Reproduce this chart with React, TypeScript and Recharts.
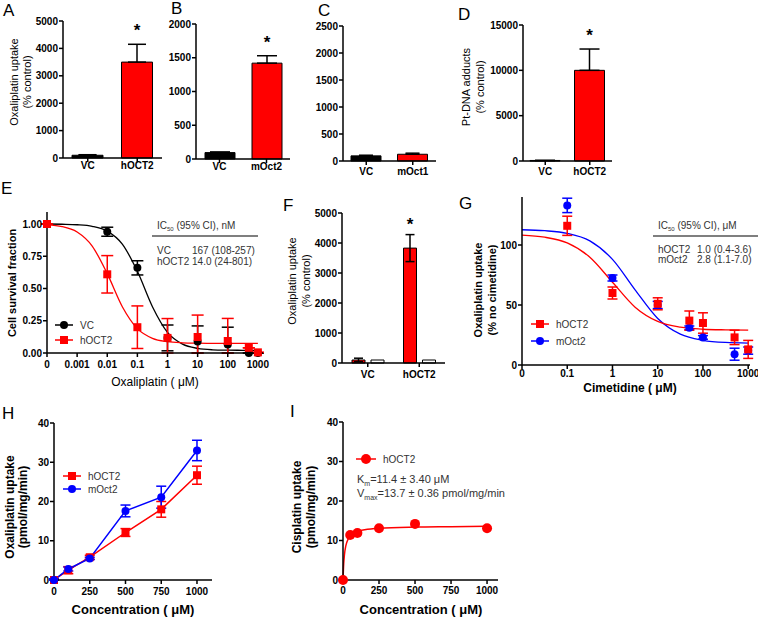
import React from 'react';
import { BarChart, Bar, Cell, XAxis, YAxis, ErrorBar, LabelList, ComposedChart, Line } from 'recharts';

const RED = '#ff0000';
const BLUE = '#0000ff';
const FONT = '"Liberation Sans", Arial, sans-serif';

// A - oxaliplatin uptake, hOCT2
const catsA = ['VC', 'hOCT2'];
const uptakeA = [100, 3500];
const errA = [20, 650];
const ticksA = [0, 1000, 2000, 3000, 4000, 5000];
// B - mOct2
const catsB = ['VC', 'mOct2'];
const uptakeB = [95, 1420];
const errB = [10, 110];
const ticksB = [0, 500, 1000, 1500, 2000];
// C - mOct1
const catsC = ['VC', 'mOct1'];
const uptakeC = [95, 125];
const errC = [12, 20];
const ticksC = [0, 500, 1000, 1500, 2000, 2500];
// D - Pt-DNA adducts
const catsD = ['VC', 'hOCT2'];
const adductsD = [60, 10000];
const errD = [0, 2350];
const ticksD = [0, 5000, 10000, 15000];
// F - uptake with / without inhibitor
const catsF = ['VC', 'hOCT2'];
const uptakeF = [100, 3830];
const errF = [60, 450];
const uptakeFctrl = [100, 100];
const ticksF = [0, 1000, 2000, 3000, 4000, 5000];

// E - cell survival
const doseE = [0, 0.01, 0.1, 1, 10, 100, 500, 1000];
const survVC = [1.0, 0.94, 0.66, 0.117, 0.09, 0.065, 0.0, 0.0];
const survVCErr = [0, 0.035, 0.055, 0.1, 0.12, 0.135, 0, 0];
const survHOCT2 = [1.0, 0.61, 0.2, 0.117, 0.124, 0.093, 0.04, 0.005];
const survHOCT2Err = [0, 0.145, 0.165, 0.15, 0.17, 0.175, 0, 0];
const fitLogE = [-4, -3.5, -3, -2.5, -2, -1.5, -1, -0.5, 0, 0.5, 1, 1.5, 2, 2.5, 3];
const fitVC = [1.0, 0.998, 0.994, 0.982, 0.945, 0.844, 0.633, 0.359, 0.16, 0.069, 0.036, 0.025, 0.022, 0.021, 0.02];
const fitHOCT2 = [0.993, 0.98, 0.938, 0.829, 0.615, 0.359, 0.189, 0.114, 0.088, 0.079, 0.076, 0.075, 0.075, 0.075, 0.075];
const xTicksE = ['0', '0.001', '0.01', '0.1', '1', '10', '100', '1000'];
const yTicksE = [0, 0.25, 0.5, 0.75, 1.0];

// G - cimetidine inhibition
const doseG = [0.1, 1, 10, 50, 100, 500, 1000];
const cimHOCT2 = [116, 60, 51, 37, 35, 23, 13];
const cimHOCT2Err = [8, 5, 5, 8, 8.5, 6, 7.5];
const cimMOct2 = [133, 72.5, 50, 31, 23, 9, 12];
const cimMOct2Err = [6, 2.5, 3, 1.5, 1.5, 5, 3];
const fitLogG = [-2, -1.5, -1, -0.5, 0, 0.5, 1, 1.5, 2, 2.5, 3];
const fitGH = [108.2, 106.5, 101.7, 89.8, 69, 48.2, 36.3, 31.5, 29.8, 29.3, 29.1];
const fitGM = [112.7, 111.9, 109.7, 103.4, 88, 62.6, 38.8, 25.7, 20.6, 18.8, 18.3];
const xTicksG = ['0', '0.1', '1', '10', '100', '1000'];
const yTicksG = [0, 50, 100];

// H - oxaliplatin uptake vs concentration
const concH = [0, 100, 250, 500, 750, 1000];
const oxHOCT2 = [0, 2.5, 5.8, 12.1, 18, 26.7];
const oxHOCT2Err = [0.3, 0.9, 0.5, 1, 2, 2.3];
const oxMOct2 = [0, 2.8, 5.5, 17.6, 21.1, 33];
const oxMOct2Err = [0.3, 0.5, 0.3, 1.5, 2.8, 2.6];
const concTicks = [0, 250, 500, 750, 1000];
const uptakeTicks = [0, 10, 20, 30, 40];

// I - cisplatin uptake
const concI = [0, 50, 100, 250, 500, 1000];
const cisHOCT2 = [0, 11.4, 11.9, 13.1, 14.2, 13.1];
const fitConcI = [0, 5, 10, 20, 30, 50, 75, 100, 150, 250, 500, 750, 1000];
const fitCisI = [0, 4.2, 6.4, 8.7, 9.9, 11.2, 11.9, 12.3, 12.7, 13.1, 13.4, 13.5, 13.6];

const axisLine = { stroke: '#000', strokeWidth: 1.5 };
const tickLine = { stroke: '#000', strokeWidth: 1.5 };
const tickFont = { fontSize: 10, fontWeight: 700, fill: '#000', fontFamily: FONT };

function place(rect: number[], yW = 40, mt = 14, mr = 8, xH = 26) {
  const [x0, y0, x1, y1] = rect;
  return {
    style: { position: 'absolute' as const, left: x0 - yW, top: y0 - mt },
    width: x1 - x0 + yW + mr,
    height: y1 - y0 + mt + xH,
    margin: { top: mt, right: mr, left: 0, bottom: 0 },
    yW,
    xH,
  };
}

const logE = (d: number) => (d === 0 ? -4 : Math.log10(d));
const logG = (d: number) => (d === 0 ? -2 : Math.log10(d));

const pts = (xs: number[], ys: number[], errs?: number[]) =>
  xs.map((x, i) => ({ x, y: ys[i], e: errs ? [Math.min(errs[i], ys[i]), errs[i]] : 0 }));

const square = (color: string, s = 8) => (p: any) =>
  <rect key={`sq-${p.index}`} x={p.cx - s / 2} y={p.cy - s / 2} width={s} height={s} fill={color} />;
const dotC = (color: string, r = 4) => (p: any) =>
  <circle key={`ci-${p.index}`} cx={p.cx} cy={p.cy} r={r} fill={color} />;

interface BarPanelProps {
  rect: number[];
  cats: string[];
  vals: number[];
  errs: number[];
  ticks: number[];
  barSize: number;
  cap: number;
  tickMargin: number;
  star?: boolean;
}

function BarPanel({ rect, cats, vals, errs, ticks, barSize, cap, tickMargin, star }: BarPanelProps) {
  const p = place(rect);
  const data = cats.map((name, i) => ({ name, v: vals[i], e: [0, errs[i]] }));
  const renderStar = (props: any) => {
    const { x, y, width, height, index } = props;
    if (!star || index !== 1) return null;
    const errPx = (height * errs[index]) / vals[index];
    return (
      <text key="star" x={x + width / 2} y={y - errPx - 8} textAnchor="middle" fontSize={17} fontWeight={700} fontFamily={FONT}>
        *
      </text>
    );
  };
  return (
    <div style={p.style}>
      <BarChart width={p.width} height={p.height} margin={p.margin} data={data}>
        <XAxis dataKey="name" height={p.xH} axisLine={axisLine} tickLine={tickLine} tickSize={4} tickMargin={tickMargin} tick={tickFont} interval={0} />
        <YAxis type="number" width={p.yW} domain={[0, ticks[ticks.length - 1]]} ticks={ticks} axisLine={axisLine} tickLine={tickLine} tickSize={4} tickMargin={1} tick={tickFont} interval={0} />
        <Bar dataKey="v" barSize={barSize} stroke="#000" strokeWidth={1} isAnimationActive={false}>
          {data.map((d, i) => <Cell key={d.name} fill={i === 0 ? '#000' : RED} />)}
          <ErrorBar dataKey="e" width={cap} stroke="#000" strokeWidth={1.5} direction="y" />
          <LabelList dataKey="v" content={renderStar} />
        </Bar>
      </BarChart>
    </div>
  );
}

function PanelF() {
  const p = place([342, 213, 445, 363]);
  const data = catsF.map((name, i) => ({ name, v: uptakeF[i], e: [Math.min(errF[i], uptakeF[i]), errF[i]], c: uptakeFctrl[i] }));
  const renderStar = (props: any) => {
    const { x, y, width, height, index } = props;
    if (index !== 1) return null;
    const errPx = (height * errF[index]) / uptakeF[index];
    return (
      <text key="star" x={x + width / 2} y={y - errPx - 5} textAnchor="middle" fontSize={17} fontWeight={700} fontFamily={FONT}>
        *
      </text>
    );
  };
  return (
    <div style={p.style}>
      <BarChart width={p.width} height={p.height} margin={p.margin} data={data} barGap={6}>
        <XAxis dataKey="name" height={p.xH} axisLine={axisLine} tickLine={tickLine} tickSize={4} tickMargin={4} tick={tickFont} interval={0} />
        <YAxis type="number" width={p.yW} domain={[0, 5000]} ticks={ticksF} axisLine={axisLine} tickLine={tickLine} tickSize={4} tickMargin={1} tick={tickFont} interval={0} />
        <Bar dataKey="v" barSize={13} fill={RED} stroke="#000" strokeWidth={1} isAnimationActive={false}>
          <ErrorBar dataKey="e" width={4.5} stroke="#000" strokeWidth={1.5} direction="y" />
          <LabelList dataKey="v" content={renderStar} />
        </Bar>
        <Bar dataKey="c" barSize={13} fill="#fff" stroke="#000" strokeWidth={1} isAnimationActive={false} />
      </BarChart>
    </div>
  );
}

function PanelE() {
  const p = place([47, 212, 263, 353]);
  const vc = pts(doseE.map(logE), survVC, survVCErr);
  const h2 = pts(doseE.map(logE), survHOCT2, survHOCT2Err);
  const fVC = pts(fitLogE, fitVC);
  const fH = pts(fitLogE, fitHOCT2);
  return (
    <div style={p.style}>
      <ComposedChart width={p.width} height={p.height} margin={p.margin}>
        <XAxis type="number" dataKey="x" domain={[-4, 3.17]} ticks={[-4, -3, -2, -1, 0, 1, 2, 3]} tickFormatter={(v: number) => xTicksE[v + 4]} height={p.xH} axisLine={axisLine} tickLine={tickLine} tickSize={4} tickMargin={4} tick={tickFont} interval={0} />
        <YAxis type="number" dataKey="y" width={p.yW} domain={[0, 1.093]} ticks={yTicksE} tickFormatter={(v: number) => v.toFixed(2)} axisLine={axisLine} tickLine={tickLine} tickSize={4} tickMargin={1} tick={tickFont} interval={0} />
        <Line data={fVC} dataKey="y" type="monotone" stroke="#000" strokeWidth={1.3} dot={false} isAnimationActive={false} />
        <Line data={fH} dataKey="y" type="monotone" stroke={RED} strokeWidth={1.3} dot={false} isAnimationActive={false} />
        <Line data={vc} dataKey="y" stroke="none" dot={dotC('#000')} isAnimationActive={false}>
          <ErrorBar dataKey="e" width={6} stroke="#000" strokeWidth={1.5} direction="y" />
        </Line>
        <Line data={h2} dataKey="y" stroke="none" dot={square(RED)} isAnimationActive={false}>
          <ErrorBar dataKey="e" width={6} stroke={RED} strokeWidth={1.5} direction="y" />
        </Line>
      </ComposedChart>
    </div>
  );
}

function PanelG() {
  const p = place([522, 197, 750, 365]);
  const h2 = pts(doseG.map(logG), cimHOCT2, cimHOCT2Err);
  const m2 = pts(doseG.map(logG), cimMOct2, cimMOct2Err);
  const fH = pts(fitLogG, fitGH);
  const fM = pts(fitLogG, fitGM);
  return (
    <div style={p.style}>
      <ComposedChart width={p.width} height={p.height} margin={p.margin}>
        <XAxis type="number" dataKey="x" domain={[-2, 3.04]} ticks={[-2, -1, 0, 1, 2, 3]} tickFormatter={(v: number) => xTicksG[v + 2]} height={p.xH} axisLine={axisLine} tickLine={tickLine} tickSize={4} tickMargin={1} tick={tickFont} interval={0} />
        <YAxis type="number" dataKey="y" width={p.yW} domain={[0, 140]} ticks={yTicksG} axisLine={axisLine} tickLine={tickLine} tickSize={4} tickMargin={1} tick={tickFont} interval={0} />
        <Line data={fM} dataKey="y" type="monotone" stroke={BLUE} strokeWidth={1.3} dot={false} isAnimationActive={false} />
        <Line data={fH} dataKey="y" type="monotone" stroke={RED} strokeWidth={1.3} dot={false} isAnimationActive={false} />
        <Line data={m2} dataKey="y" stroke="none" dot={dotC(BLUE)} isAnimationActive={false}>
          <ErrorBar dataKey="e" width={5} stroke={BLUE} strokeWidth={1.5} direction="y" />
        </Line>
        <Line data={h2} dataKey="y" stroke="none" dot={square(RED)} isAnimationActive={false}>
          <ErrorBar dataKey="e" width={5} stroke={RED} strokeWidth={1.5} direction="y" />
        </Line>
      </ComposedChart>
    </div>
  );
}

function PanelH() {
  const p = place([54, 423, 212, 580]);
  const h2 = pts(concH, oxHOCT2, oxHOCT2Err);
  const m2 = pts(concH, oxMOct2, oxMOct2Err);
  return (
    <div style={p.style}>
      <ComposedChart width={p.width} height={p.height} margin={p.margin}>
        <XAxis type="number" dataKey="x" domain={[0, 1105]} ticks={concTicks} height={p.xH} axisLine={axisLine} tickLine={tickLine} tickSize={4} tickMargin={4} tick={tickFont} interval={0} />
        <YAxis type="number" dataKey="y" width={p.yW} domain={[0, 40]} ticks={uptakeTicks} axisLine={axisLine} tickLine={tickLine} tickSize={4} tickMargin={1} tick={tickFont} interval={0} />
        <Line data={h2} dataKey="y" stroke={RED} strokeWidth={1.5} dot={square(RED)} isAnimationActive={false}>
          <ErrorBar dataKey="e" width={5} stroke={RED} strokeWidth={1.5} direction="y" />
        </Line>
        <Line data={m2} dataKey="y" stroke={BLUE} strokeWidth={1.5} dot={dotC(BLUE)} isAnimationActive={false}>
          <ErrorBar dataKey="e" width={5} stroke={BLUE} strokeWidth={1.5} direction="y" />
        </Line>
      </ComposedChart>
    </div>
  );
}

function PanelI() {
  const p = place([343, 422, 498, 580]);
  const h2 = pts(concI, cisHOCT2);
  const fit = pts(fitConcI, fitCisI);
  return (
    <div style={p.style}>
      <ComposedChart width={p.width} height={p.height} margin={p.margin}>
        <XAxis type="number" dataKey="x" domain={[0, 1076]} ticks={concTicks} height={p.xH} axisLine={axisLine} tickLine={tickLine} tickSize={4} tickMargin={3} tick={tickFont} interval={0} />
        <YAxis type="number" dataKey="y" width={p.yW} domain={[0, 40]} ticks={uptakeTicks} axisLine={axisLine} tickLine={tickLine} tickSize={4} tickMargin={1} tick={tickFont} interval={0} />
        <Line data={fit} dataKey="y" type="monotone" stroke={RED} strokeWidth={1.5} dot={false} isAnimationActive={false} />
        <Line data={h2} dataKey="y" stroke="none" dot={dotC(RED, 5)} isAnimationActive={false} />
      </ComposedChart>
    </div>
  );
}

function VTitle({ x, y, lines, size, bold }: { x: number[]; y: number; lines: string[]; size: number; bold?: boolean }) {
  return (
    <g fontSize={size} fontWeight={bold ? 700 : 400}>
      {lines.map((l, i) => (
        <text key={l} x={x[i]} y={y} transform={`rotate(-90 ${x[i]} ${y})`} textAnchor="middle" dominantBaseline="central">
          {l}
        </text>
      ))}
    </g>
  );
}

function LegendRow({ x, y, color, shape, label }: { x: number; y: number; color: string; shape: 'sq' | 'ci'; label: string }) {
  return (
    <g>
      <line x1={x} y1={y} x2={x + 18} y2={y} stroke={color} strokeWidth={1.5} />
      {shape === 'sq'
        ? <rect x={x + 5} y={y - 4} width={8} height={8} fill={color} />
        : <circle cx={x + 9} cy={y} r={4} fill={color} />}
      <text x={x + 25} y={y + 3.5} fontSize={10} fill="#333">{label}</text>
    </g>
  );
}

function Overlay() {
  return (
    <svg width={760} height={620} style={{ position: 'absolute', left: 0, top: 0, pointerEvents: 'none' }}>
      <g fontFamily={FONT} fill="#000">
        <g fontSize={17}>
          <text x={3} y={16}>A</text>
          <text x={171} y={14}>B</text>
          <text x={318} y={16}>C</text>
          <text x={458} y={20}>D</text>
          <text x={1} y={194}>E</text>
          <text x={283} y={211}>F</text>
          <text x={459} y={209}>G</text>
          <text x={2} y={419}>H</text>
          <text x={290} y={417}>I</text>
        </g>

        <VTitle x={[14, 27]} y={82} lines={['Oxaliplatin uptake', '(% control)']} size={11} />
        <VTitle x={[466, 480]} y={87} lines={['Pt-DNA adducts', '(% control)']} size={11} />
        <VTitle x={[12]} y={283} lines={['Cell survival fraction']} size={11} bold />
        <VTitle x={[292, 306]} y={281} lines={['Oxaliplatin uptake', '(% control)']} size={11} />
        <VTitle x={[478, 492]} y={290} lines={['Oxaliplatin uptake', '(% no cimetidine)']} size={11} bold />
        <VTitle x={[10, 23]} y={507} lines={['Oxaliplatin uptake', '(pmol/mg/min)']} size={12} bold />
        <VTitle x={[297, 311]} y={507} lines={['Cisplatin uptake', '(pmol/mg/min)']} size={12} bold />

        <text x={155} y={386} textAnchor="middle" fontSize={12}>Oxaliplatin ( μM)</text>
        <text x={630} y={392} textAnchor="middle" fontSize={12} fontWeight={700}>Cimetidine ( μM)</text>
        <text x={133} y={614} textAnchor="middle" fontSize={13} fontWeight={700}>Concentration ( μM)</text>
        <text x={421} y={614} textAnchor="middle" fontSize={13} fontWeight={700}>Concentration ( μM)</text>

        <g fontSize={10} fill="#333">
          <text x={157} y={229}>IC<tspan fontSize={6} dy={2}>50</tspan><tspan dy={-2}> (95% CI), nM</tspan></text>
          <text x={157} y={254}>VC</text>
          <text x={192} y={254}>167 (108-257)</text>
          <text x={157} y={265}>hOCT2 14.0 (24-801)</text>

          <text x={658} y={229}>IC<tspan fontSize={6} dy={2}>50</tspan><tspan dy={-2}> (95% CI),  μM</tspan></text>
          <text x={658} y={253}>hOCT2</text>
          <text x={697} y={253}>1.0 (0.4-3.6)</text>
          <text x={658} y={263}>mOct2</text>
          <text x={697} y={263}>2.8 (1.1-7.0)</text>
        </g>
        <line x1={152} y1={236} x2={258} y2={236} stroke="#555" strokeWidth={1.5} />
        <line x1={653} y1={236} x2={758} y2={236} stroke="#555" strokeWidth={1.5} />

        <LegendRow x={55} y={325} color="#000" shape="ci" label="VC" />
        <LegendRow x={55} y={340} color={RED} shape="sq" label="hOCT2" />
        <LegendRow x={531} y={324} color={RED} shape="sq" label="hOCT2" />
        <LegendRow x={531} y={341} color={BLUE} shape="ci" label="mOct2" />
        <LegendRow x={63} y={476} color={RED} shape="sq" label="hOCT2" />
        <LegendRow x={63} y={489} color={BLUE} shape="ci" label="mOct2" />

        <line x1={356} y1={459} x2={376} y2={459} stroke={RED} strokeWidth={1.5} />
        <circle cx={366} cy={459} r={5} fill={RED} />
        <text x={383} y={463} fontSize={10} fill="#333">hOCT2</text>
        <g fontSize={11} fill="#333">
          <text x={357} y={483}>K<tspan fontSize={7} dy={3}>m</tspan><tspan dy={-3}>=11.4 ± 3.40 μM</tspan></text>
          <text x={357} y={497}>V<tspan fontSize={7} dy={3}>max</tspan><tspan dy={-3}>=13.7 ± 0.36 pmol/mg/min</tspan></text>
        </g>
      </g>
    </svg>
  );
}

export default function App() {
  return (
    <div style={{ position: 'absolute', left: 0, top: 0, width: 760, height: 620, background: '#fff', fontFamily: FONT }}>
      <BarPanel rect={[63, 21, 162, 158]} cats={catsA} vals={uptakeA} errs={errA} ticks={ticksA} barSize={31} cap={9} tickMargin={0} star />
      <BarPanel rect={[196, 24, 290, 159]} cats={catsB} vals={uptakeB} errs={errB} ticks={ticksB} barSize={30} cap={10} tickMargin={0} star />
      <BarPanel rect={[343, 26, 436, 161]} cats={catsC} vals={uptakeC} errs={errC} ticks={ticksC} barSize={30} cap={7} tickMargin={3} />
      <BarPanel rect={[523, 25, 612, 161]} cats={catsD} vals={adductsD} errs={errD} ticks={ticksD} barSize={30} cap={10} tickMargin={3} star />
      <PanelE />
      <PanelF />
      <PanelG />
      <PanelH />
      <PanelI />
      <Overlay />
    </div>
  );
}
